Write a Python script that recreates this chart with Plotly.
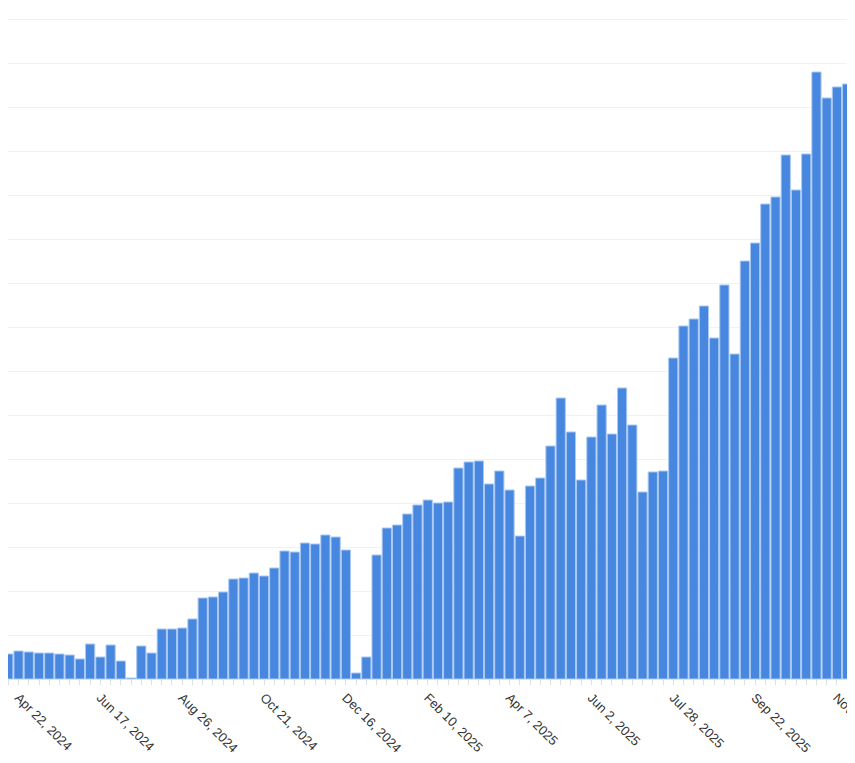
import plotly.graph_objects as go
import pandas as pd

# weekly categories (two weeks absent in July 2024)
weeks = [d for d in pd.date_range("2024-04-15", "2025-12-01", freq="7D")
         if d.strftime("%Y-%m-%d") not in ("2024-07-15", "2024-07-22")]
categories = [f"{d.strftime('%b')} {d.day}, {d.year}" for d in weeks]

# pixel-read bar tops converted to values (gridline = 100)
tops = [646, 643, 644, 645, 645, 646, 647, 651, 636, 649, 637, 653, 670, 638, 645,
        621, 621, 620, 611, 590, 589, 584, 571, 570, 565, 568, 560, 543, 544, 535,
        536, 527, 529, 542, 665, 649, 547, 520, 517, 506, 497, 492, 495, 494, 460,
        454, 453, 476, 463, 482, 528, 478, 470, 438, 390, 424, 472, 429, 397, 426,
        380, 417, 484, 464, 463, 350, 318, 311, 298, 330, 277, 346, 253, 235, 196,
        189, 147, 182, 146, 64, 90, 79, 76, 16]
values = [round((671 - t) / 44 * 100, 1) for t in tops]

tick_text = [c if i % 8 == 1 else "" for i, c in enumerate(categories)]

fig = go.Figure(go.Bar(
    x=categories, y=values,
    marker=dict(color="#4787DF", line=dict(color="#A9C9F2", width=1)),
))
fig.update_layout(
    width=855, height=763,
    margin=dict(l=0, r=0, t=0, b=92, autoexpand=False),
    plot_bgcolor="white", paper_bgcolor="white",
    bargap=0.1, showlegend=False,
    font=dict(family="Liberation Sans, Arial, sans-serif", size=13, color="#333"),
)
fig.update_xaxes(
    type="category", range=[-0.03, 83.55], automargin=False,
    tickmode="array", tickvals=categories, ticktext=tick_text,
    tickangle=45, ticks="outside", ticklen=5, tickcolor="#e0e0e0",
    showline=True, linecolor="#dde3ee", showgrid=False,
    tickfont=dict(size=13, color="#333"),
)
fig.update_yaxes(
    range=[0, 1525], dtick=100, showticklabels=False, automargin=False,
    showgrid=True, gridcolor="#f2f2f2", zeroline=False,
)
fig.write_html("out.html")
